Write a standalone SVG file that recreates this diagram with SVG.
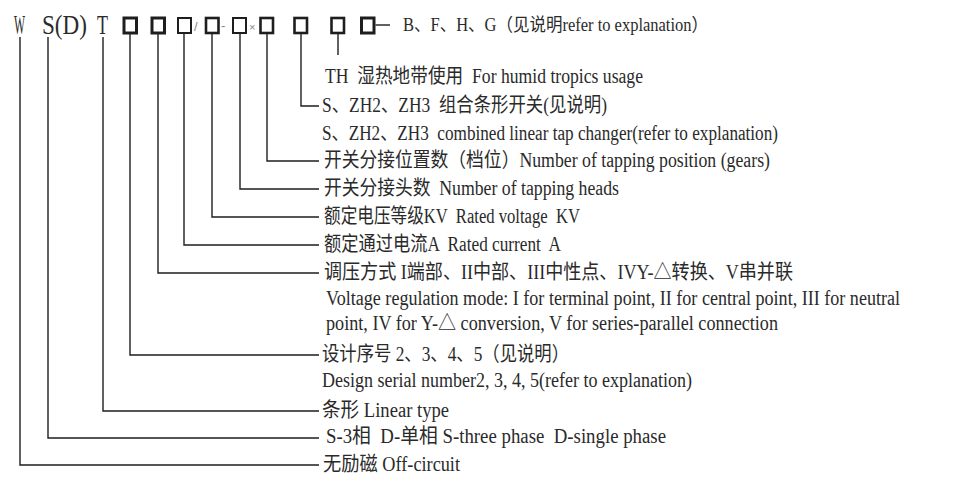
<svg xmlns="http://www.w3.org/2000/svg" width="968" height="493" viewBox="0 0 968 493" xml:space="preserve">
<style>
.t{font-family:"Liberation Serif","Noto Sans CJK SC",serif;font-size:20px;fill:#2a2a2a;white-space:pre}
.s{font-size:18px}
.big{font-size:28px}
.box{fill:none;stroke:#1e1e1e;stroke-width:2.6}
.thin{stroke-width:2}
.sym{font-family:"Liberation Sans",sans-serif;font-size:13px;fill:#888}
.c{fill:none;stroke:#1e1e1e;stroke-width:1.4}
</style>
<rect width="968" height="493" fill="#fff"/>
<g id="code">
<text class="t big" x="14" y="34" textLength="11" lengthAdjust="spacingAndGlyphs">W</text>
<text class="t big" x="42" y="34" textLength="45" lengthAdjust="spacingAndGlyphs">S(D)</text>
<text class="t big" x="97" y="34" textLength="11" lengthAdjust="spacingAndGlyphs">T</text>
<rect class="box" x="124" y="18" width="12.5" height="15" style="stroke-width:3"/>
<rect class="box" x="152" y="18" width="12.5" height="15" style="stroke-width:3"/>
<rect class="box thin" x="178" y="18" width="13" height="15"/>
<text class="sym" x="194" y="31">/</text>
<rect class="box" x="206" y="18" width="12.5" height="15"/>
<text class="sym" x="221" y="30">-</text>
<rect class="box thin" x="233" y="18" width="13" height="15"/>
<text class="sym" x="249" y="31" style="font-size:11px">×</text>
<rect class="box" x="260.5" y="18" width="12.5" height="15"/>
<rect class="box" x="294.5" y="18" width="12.5" height="15"/>
<rect class="box" x="331.5" y="18" width="12.5" height="15"/>
<rect class="box" x="361.5" y="18" width="12.5" height="15" style="stroke-width:3"/>
</g>
<g id="connectors">
<path class="c" d="M20 37V465H319"/>
<path class="c" d="M48 37V438H319"/>
<path class="c" d="M103 37V411H319"/>
<path class="c" d="M130 34V355H319"/>
<path class="c" d="M158 34V273H319"/>
<path class="c" d="M184 34V245H319"/>
<path class="c" d="M212 34V217H319"/>
<path class="c" d="M240 34V189H319"/>
<path class="c" d="M267 34V161H319"/>
<path class="c" d="M301 34V106H319"/>
<path class="c" d="M338 34V55"/>
<path class="c" d="M375.5 25H390"/>
</g>
<g id="n-bfhg"><text class="t s" x="403" y="31" textLength="305" lengthAdjust="spacingAndGlyphs">B、F、H、G（见说明refer to explanation）</text></g>
<g id="n-th"><text class="t" x="325" y="83" textLength="318" lengthAdjust="spacingAndGlyphs">TH  湿热地带使用  For humid tropics usage</text></g>
<g id="n-szh">
<text class="t" x="322" y="112" textLength="285" lengthAdjust="spacingAndGlyphs">S、ZH2、ZH3  组合条形开关(见说明)</text>
<text class="t" x="322" y="140" textLength="456" lengthAdjust="spacingAndGlyphs">S、ZH2、ZH3  combined linear tap changer(refer to explanation)</text>
</g>
<g id="n-positions"><text class="t" x="324" y="167" textLength="446" lengthAdjust="spacingAndGlyphs">开关分接位置数（档位）Number of tapping position (gears)</text></g>
<g id="n-heads"><text class="t" x="324" y="195" textLength="295" lengthAdjust="spacingAndGlyphs">开关分接头数  Number of tapping heads</text></g>
<g id="n-voltage"><text class="t" x="324" y="223" textLength="256" lengthAdjust="spacingAndGlyphs">额定电压等级KV  Rated voltage  KV</text></g>
<g id="n-current"><text class="t" x="324" y="251" textLength="237" lengthAdjust="spacingAndGlyphs">额定通过电流A  Rated current  A</text></g>
<g id="n-regulation">
<text class="t" x="324" y="279" textLength="469" lengthAdjust="spacingAndGlyphs">调压方式 I端部、II中部、III中性点、IVY-△转换、V串并联</text>
<text class="t" x="326" y="305" textLength="574" lengthAdjust="spacingAndGlyphs">Voltage regulation mode: I for terminal point, II for central point, III for neutral</text>
<text class="t" x="326" y="330" textLength="452" lengthAdjust="spacingAndGlyphs">point, IV for Y-△ conversion, V for series-parallel connection</text>
</g>
<g id="n-design">
<text class="t" x="322" y="361" textLength="247" lengthAdjust="spacingAndGlyphs">设计序号 2、3、4、5（见说明）</text>
<text class="t" x="322" y="387" textLength="370" lengthAdjust="spacingAndGlyphs">Design serial number2, 3, 4, 5(refer to explanation)</text>
</g>
<g id="n-linear"><text class="t" x="322" y="417" textLength="127" lengthAdjust="spacingAndGlyphs">条形 Linear type</text></g>
<g id="n-phase"><text class="t" x="326" y="443" textLength="340" lengthAdjust="spacingAndGlyphs">S-3相  D-单相 S-three phase  D-single phase</text></g>
<g id="n-offcircuit"><text class="t" x="323" y="471" textLength="137" lengthAdjust="spacingAndGlyphs">无励磁 Off-circuit</text></g>
</svg>
